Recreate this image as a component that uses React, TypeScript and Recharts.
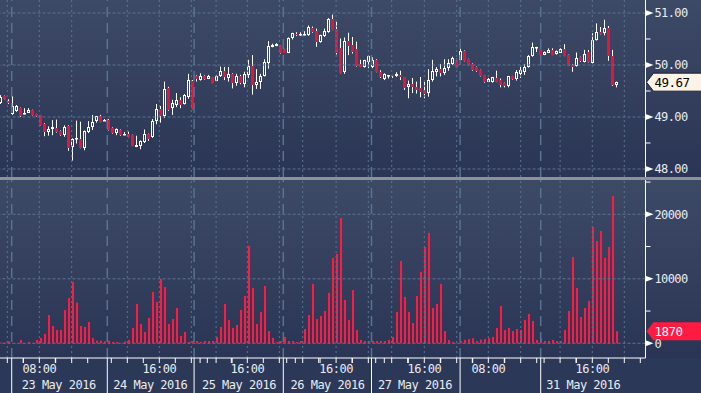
import React from "react";
import { ComposedChart, Bar, XAxis, YAxis, ReferenceLine } from "recharts";

// hourly bars, 23 May - 31 May 2016
const opens = [
  49.27, 49.40, 49.31, 49.05, 49.12, 49.17, 49.05, 49.08, 49.13, 49.06,
  49.03, 48.87, 48.72, 48.76, 48.79, 48.73, 48.65, 48.83, 48.43, 48.57,
  48.57, 48.41, 48.71, 48.80, 48.93, 49.02, 48.93, 48.95, 48.79, 48.69,
  48.75, 48.66, 48.67, 48.65, 48.42, 48.44, 48.51, 48.67, 48.61, 48.92,
  49.15, 49.01, 49.55, 49.17, 49.24, 49.33, 49.25, 49.39, 49.70, 49.79,
  49.71, 49.79, 49.74, 49.76, 49.70, 49.78, 49.89, 49.75, 49.83, 49.66,
  49.79, 49.64, 49.81, 49.98, 49.62, 49.68, 49.79, 50.04, 50.35, 50.37,
  50.36, 50.30, 50.24, 50.51, 50.60, 50.57, 50.58, 50.57, 50.72, 50.65,
  50.45, 50.55, 50.64, 50.89, 50.70, 50.32, 49.87, 50.46, 50.38, 50.30,
  50.01, 49.97, 50.06, 49.97, 50.10, 49.87, 49.74, 49.79, 49.80, 49.78,
  49.80, 49.76, 49.57, 49.64, 49.57, 49.55, 49.51, 49.46, 49.71, 49.87,
  49.92, 49.84, 49.94, 50.02, 50.11, 50.10, 50.27, 50.11, 50.02, 49.96,
  49.90, 49.80, 49.68, 49.68, 49.75, 49.71, 49.65, 49.59, 49.78, 49.73,
  49.83, 49.87, 49.96, 50.18, 50.32, 50.30, 50.20, 50.24, 50.29, 50.21,
  50.24, 50.30, 50.19, 50.00, 49.98, 50.15, 50.06, 50.25, 50.04, 50.49,
  50.64, 50.62, 50.72, 50.17, 49.62,
];
const highs = [
  49.42, 49.41, 49.34, 49.40, 49.23, 49.18, 49.17, 49.17, 49.14, 49.06,
  49.04, 48.88, 48.82, 48.94, 48.95, 48.74, 48.84, 48.84, 48.59, 48.93,
  48.91, 48.74, 48.92, 49.04, 49.02, 49.04, 48.96, 48.96, 48.80, 48.78,
  48.76, 48.71, 48.72, 48.66, 48.64, 48.55, 48.76, 48.68, 48.96, 49.25,
  49.21, 49.68, 49.58, 49.33, 49.46, 49.38, 49.44, 49.83, 49.71, 49.80,
  49.84, 49.80, 49.81, 49.77, 49.81, 49.97, 49.96, 49.96, 49.84, 49.83,
  49.81, 49.87, 50.10, 50.19, 49.92, 49.83, 50.11, 50.46, 50.41, 50.42,
  50.37, 50.31, 50.53, 50.62, 50.63, 50.63, 50.65, 50.76, 50.74, 50.70,
  50.58, 50.70, 50.90, 50.97, 50.83, 50.51, 50.53, 50.62, 50.54, 50.45,
  50.10, 50.10, 50.19, 50.15, 50.11, 49.90, 49.84, 49.80, 49.81, 49.86,
  49.89, 49.77, 49.70, 49.75, 49.68, 49.77, 49.68, 49.92, 50.10, 49.96,
  50.02, 50.11, 50.11, 50.16, 50.12, 50.32, 50.28, 50.12, 50.03, 49.97,
  49.91, 49.81, 49.75, 49.77, 49.89, 49.74, 49.66, 49.79, 49.79, 49.90,
  49.97, 50.02, 50.19, 50.43, 50.35, 50.33, 50.26, 50.32, 50.32, 50.28,
  50.32, 50.40, 50.20, 50.01, 50.24, 50.16, 50.29, 50.29, 50.61, 50.80,
  50.73, 50.87, 50.75, 50.29, 49.68,
];
const lows = [
  49.25, 49.34, 49.25, 49.04, 49.10, 49.00, 49.05, 49.08, 49.03, 49.01,
  48.84, 48.63, 48.64, 48.65, 48.70, 48.64, 48.62, 48.35, 48.16, 48.49,
  48.40, 48.36, 48.69, 48.75, 48.89, 48.90, 48.93, 48.74, 48.68, 48.65,
  48.64, 48.66, 48.61, 48.44, 48.42, 48.38, 48.50, 48.54, 48.60, 48.86,
  48.89, 48.98, 49.12, 49.04, 49.19, 49.17, 49.24, 49.35, 49.15, 49.68,
  49.70, 49.72, 49.73, 49.65, 49.69, 49.77, 49.71, 49.68, 49.55, 49.60,
  49.63, 49.57, 49.75, 49.43, 49.54, 49.54, 49.78, 49.93, 50.34, 50.36,
  50.22, 50.23, 50.23, 50.49, 50.56, 50.56, 50.57, 50.56, 50.62, 50.35,
  50.43, 50.54, 50.62, 50.67, 50.20, 49.84, 49.83, 50.19, 50.22, 49.97,
  49.96, 49.95, 49.94, 49.94, 49.86, 49.75, 49.71, 49.74, 49.75, 49.77,
  49.71, 49.52, 49.36, 49.46, 49.45, 49.38, 49.36, 49.39, 49.68, 49.78,
  49.78, 49.81, 49.89, 50.00, 49.94, 50.09, 50.07, 49.98, 49.89, 49.87,
  49.78, 49.66, 49.67, 49.66, 49.67, 49.57, 49.57, 49.57, 49.72, 49.70,
  49.75, 49.81, 49.95, 50.16, 50.25, 50.19, 50.19, 50.23, 50.19, 50.20,
  50.23, 50.17, 49.98, 49.87, 49.97, 50.06, 50.05, 50.05, 50.03, 50.47,
  50.59, 50.57, 50.08, 49.60, 49.57,
];
const closes = [
  49.39, 49.35, 49.26, 49.21, 49.21, 49.02, 49.08, 49.14, 49.04, 49.02,
  48.85, 48.71, 48.76, 48.80, 48.71, 48.65, 48.81, 48.41, 48.57, 48.60,
  48.41, 48.73, 48.80, 48.91, 49.01, 48.91, 48.95, 48.75, 48.69, 48.76,
  48.65, 48.68, 48.62, 48.45, 48.46, 48.53, 48.67, 48.57, 48.93, 49.15,
  49.01, 49.54, 49.13, 49.26, 49.33, 49.23, 49.42, 49.72, 49.16, 49.73,
  49.79, 49.73, 49.79, 49.66, 49.79, 49.89, 49.76, 49.83, 49.65, 49.79,
  49.65, 49.83, 49.98, 49.62, 49.68, 49.79, 50.05, 50.36, 50.39, 50.40,
  50.24, 50.24, 50.51, 50.61, 50.57, 50.60, 50.60, 50.74, 50.63, 50.45,
  50.57, 50.65, 50.89, 50.68, 50.23, 49.85, 50.46, 50.37, 50.25, 49.98,
  49.97, 50.09, 50.17, 50.10, 49.87, 49.76, 49.83, 49.80, 49.78, 49.83,
  49.76, 49.56, 49.64, 49.57, 49.52, 49.49, 49.45, 49.71, 49.89, 49.93,
  49.84, 49.94, 50.03, 50.13, 49.95, 50.27, 50.08, 49.99, 49.90, 49.89,
  49.79, 49.68, 49.74, 49.76, 49.68, 49.62, 49.59, 49.78, 49.73, 49.87,
  49.90, 49.97, 50.17, 50.34, 50.35, 50.20, 50.25, 50.29, 50.20, 50.27,
  50.30, 50.18, 49.99, 49.97, 50.13, 50.08, 50.22, 50.06, 50.49, 50.64,
  50.60, 50.72, 50.17, 49.62, 49.67,
];
const volumes = [
  100, 100, 310, 50, 50, 520, 50, 210, 50, 520,
  830, 1450, 4390, 2690, 2070, 2070, 5170, 7030, 9510, 6310,
  2690, 2530, 3310, 830, 410, 410, 310, 410, 210, 210,
  50, 260, 520, 2380, 6100, 3000, 1760, 3930, 7960, 6410,
  9980, 8740, 3000, 3770, 5480, 1140, 1760, 210, 360, 360,
  210, 360, 360, 360, 980, 2530, 6100, 3620, 2380, 2840,
  5170, 7340, 15100, 8580, 3000, 4860, 8890, 1910, 830, 210,
  360, 980, 360, 360, 210, 360, 2220, 4390, 9200, 3770,
  4240, 5010, 7810, 13240, 13860, 19440, 6720, 3620, 8270, 2070,
  520, 360, 360, 360, 360, 360, 360, 520, 980, 4860,
  12770, 7190, 4860, 3150, 7340, 11060, 14940, 17110, 5480, 6100,
  9200, 1910, 520, 210, 40, 360, 520, 670, 780, 360,
  570, 670, 830, 980, 2380, 5790, 2070, 2380, 1910, 2220,
  2070, 3620, 4550, 3460, 520, 830, 360, 360, 520, 360,
  360, 2070, 5010, 13390, 8580, 4080, 5480, 6570, 18040, 15870,
  17420, 13240, 14940, 22850, 1870,
];

// axis ticks
const priceTicks = [48, 48.5, 49, 49.5, 50, 50.5, 51];
const priceMajor = [48, 49, 50, 51];
const volumeTicks = [0, 5000, 10000, 15000, 20000, 25000];
const volumeMajor = [0, 10000, 20000];

// positions on the bar index scale
const gridIdx = [1.7, 9.7, 17.8, 31.7, 39.7, 47.7, 53.9, 61.7, 69.7, 75.55, 83.9, 91.95, 97.8, 105.95, 114.05, 121.95, 130.05, 139.9, 147.95, 155.95];
const dayIdx = [2.8, 26.7, 48.4, 70.7, 92.75, 114.9, 135.05];
const timeIdx = [9.7, 39.7, 61.7, 83.9, 105.95, 121.95, 147.95];
const timeText = ["08:00", "16:00", "16:00", "16:00", "16:00", "08:00", "16:00"];
const dateIdx = [14.55, 37.45, 59.6, 81.75, 103.6, 145.7];
const dateText = ["23 May 2016", "24 May 2016", "25 May 2016", "26 May 2016", "27 May 2016", "31 May 2016"];

const X_DOMAIN: [number, number] = [-0.125, 161.25];
const PRICE_DOMAIN: [number, number] = [47.846, 51.25];
const VOLUME_DOMAIN: [number, number] = [-2280, 25320];

const FONT = '"DejaVu Sans Mono", monospace';
const TEXT = "#e9ecf1";
const RED = "#e5143c";
const VOL_RED = "#ff1a42";
const GRID = "#5a7592";
const DAY = "#58728f";

const bars = opens.map((open, i) => ({
  i,
  open,
  high: highs[i],
  low: lows[i],
  close: closes[i],
  range: [lows[i], highs[i]],
  volume: volumes[i],
}));

const smallTicks = Array.from(
  new Set(gridIdx.flatMap((g) => [g - 4, g, g + 4]).filter((v) => v > X_DOMAIN[0] && v < X_DOMAIN[1]))
);
const xTicks = Array.from(new Set([...smallTicks, ...dayIdx, ...timeIdx, ...dateIdx])).sort((a, b) => a - b);

const CandleShape = (props: any) => {
  const { x, y, width, height, payload } = props;
  if (!payload || x == null) return null;
  const { open, high, low, close } = payload;
  const top = Math.min(y, y + height);
  const span = Math.abs(height);
  const k = high > low ? span / (high - low) : 0;
  const py = (v: number) => top + (high - v) * k;
  const c = Math.floor(x + width / 2);
  const wx = c + 0.5;
  const bTop = Math.round(py(Math.max(open, close)));
  const bBot = Math.max(Math.round(py(Math.min(open, close))), bTop + 1);
  if (close >= open) {
    return (
      <g>
        <line x1={wx} x2={wx} y1={py(high)} y2={bTop} stroke="#fff" />
        <line x1={wx} x2={wx} y1={bBot} y2={py(low)} stroke="#fff" />
        <rect x={c - 0.5} y={bTop + 0.5} width={2} height={Math.max(bBot - bTop - 1, 0.5)} fill="none" stroke="#fff" />
      </g>
    );
  }
  return (
    <g>
      <line x1={wx} x2={wx} y1={py(high)} y2={py(low)} stroke="#fff" />
      <rect x={c - 1} y={bTop} width={3} height={bBot - bTop} fill={RED} />
    </g>
  );
};

const VolumeShape = (props: any) => {
  const { x, y, width, height } = props;
  if (x == null || !height) return null;
  const top = Math.min(y, y + height);
  return <rect x={Math.round(x + width / 2) - 1} y={top} width={2} height={Math.abs(height)} fill={VOL_RED} />;
};

const makeYTick = (major: number[], fmt: (v: number) => string) => (props: any) => {
  const { x, y, payload } = props;
  const v = payload.value;
  if (!major.includes(v)) {
    return <line x1={x} x2={x + 5} y1={y} y2={y} stroke="#fff" />;
  }
  return (
    <g>
      <polygon points={`${x},${y - 3} ${x + 8},${y} ${x},${y + 3}`} fill="#fff" />
      <text x={x + 9} y={y + 4.5} fill={TEXT} fontFamily={FONT} fontSize={12} letterSpacing={-0.6}>
        {fmt(v)}
      </text>
    </g>
  );
};

const PriceTick = makeYTick(priceMajor, (v) => v.toFixed(2));
const VolumeTick = makeYTick(volumeMajor, (v) => String(v));

const TimeTick = (props: any) => {
  const { x, y, payload } = props;
  const v = payload.value;
  const ti = timeIdx.indexOf(v);
  const di = dateIdx.indexOf(v);
  return (
    <g>
      {smallTicks.includes(v) && <line x1={x} x2={x} y1={y} y2={y + 5} stroke="#fff" />}
      {dayIdx.includes(v) && <line x1={x} x2={x} y1={y} y2={y + 36} stroke="#fff" />}
      {ti >= 0 && (
        <text x={x} y={y + 15} textAnchor="middle" fill={TEXT} fontFamily={FONT} fontSize={12} letterSpacing={-0.5}>
          {timeText[ti]}
        </text>
      )}
      {di >= 0 && (
        <text x={x} y={y + 31} textAnchor="middle" fill={TEXT} fontFamily={FONT} fontSize={12} letterSpacing={-0.5}>
          {dateText[di]}
        </text>
      )}
    </g>
  );
};

const Tag = ({ viewBox, text, bg, fg, border }: any) => {
  if (!viewBox) return null;
  const ax = viewBox.x + viewBox.width;
  const cy = viewBox.y;
  const pts = `${ax + 1},${cy} ${ax + 8},${cy - 9} ${ax + 70},${cy - 9} ${ax + 70},${cy + 9} ${ax + 8},${cy + 9}`;
  return (
    <g>
      <polygon points={pts} fill={bg} stroke={border} />
      <text x={ax + 9} y={cy + 4.5} fill={fg} fontFamily={FONT} fontSize={12.5} letterSpacing={-0.5}>
        {text}
      </text>
    </g>
  );
};

const verticalGrid = (prefix: string) => [
  ...gridIdx.map((g) => (
    <ReferenceLine key={`${prefix}g${g}`} x={g} stroke={GRID} strokeDasharray="2 3" />
  )),
  ...dayIdx.map((d) => (
    <ReferenceLine key={`${prefix}d${d}`} x={d} stroke={DAY} strokeWidth={1.5} strokeDasharray="10 6" />
  )),
];

export default function App() {
  const last = bars[bars.length - 1];
  return (
    <div style={{ position: "absolute", left: 0, top: 0, width: 701, height: 393, overflow: "hidden" }}>
      <div style={{ position: "absolute", left: 0, top: 0, width: 701, height: 177, background: "linear-gradient(#3d4a66, #2a3555)" }} />
      <div style={{ position: "absolute", left: 0, top: 177, width: 701, height: 3, background: "#8e9196" }} />
      <div style={{ position: "absolute", left: 0, top: 180, width: 701, height: 178, background: "linear-gradient(#3d4a66, #2a3555)" }} />
      <div style={{ position: "absolute", left: 0, top: 358, width: 701, height: 35, background: "#2c3858" }} />

      <div style={{ position: "absolute", left: 0, top: 0 }}>
        <ComposedChart width={701} height={177} data={bars} margin={{ top: 0, right: 0, bottom: 0, left: 0 }}>
          <XAxis type="number" dataKey="i" domain={X_DOMAIN} hide allowDataOverflow />
          <YAxis
            orientation="right"
            type="number"
            domain={PRICE_DOMAIN}
            ticks={priceTicks}
            interval={0}
            width={55.5}
            tickSize={0}
            tickMargin={0}
            tickLine={false}
            axisLine={{ stroke: "#fff" }}
            tick={PriceTick}
            allowDataOverflow
          />
          {verticalGrid("p")}
          {priceMajor.map((v) => (
            <ReferenceLine key={`ph${v}`} y={v} stroke={GRID} strokeDasharray="3 2" />
          ))}
          <Bar dataKey="range" barSize={3} shape={CandleShape} isAnimationActive={false} />
          <ReferenceLine
            y={last.close}
            stroke="none"
            label={(p: any) => <Tag viewBox={p.viewBox} text={last.close.toFixed(2)} bg="#fdf3e6" fg="#000" border="#1b2233" />}
          />
        </ComposedChart>
      </div>

      <div style={{ position: "absolute", left: 0, top: 180 }}>
        <ComposedChart width={701} height={213} data={bars} margin={{ top: 0, right: 0, bottom: 0, left: 0 }}>
          <XAxis
            type="number"
            dataKey="i"
            domain={X_DOMAIN}
            ticks={xTicks}
            interval={0}
            height={35}
            tickSize={0}
            tickMargin={0}
            tickLine={false}
            axisLine={{ stroke: "#fff" }}
            tick={TimeTick}
            allowDataOverflow
          />
          <YAxis
            orientation="right"
            type="number"
            domain={VOLUME_DOMAIN}
            ticks={volumeTicks}
            interval={0}
            width={55.5}
            tickSize={0}
            tickMargin={0}
            tickLine={false}
            axisLine={{ stroke: "#fff" }}
            tick={VolumeTick}
            allowDataOverflow
          />
          {verticalGrid("v")}
          {volumeMajor.map((v) => (
            <ReferenceLine key={`vh${v}`} y={v} stroke={GRID} strokeDasharray="3 2" />
          ))}
          <Bar dataKey="volume" barSize={2} shape={VolumeShape} isAnimationActive={false} />
          <ReferenceLine
            y={last.volume}
            stroke="none"
            label={(p: any) => <Tag viewBox={p.viewBox} text={String(last.volume)} bg="#ff1a42" fg="#fff" border="none" />}
          />
        </ComposedChart>
      </div>
    </div>
  );
}
